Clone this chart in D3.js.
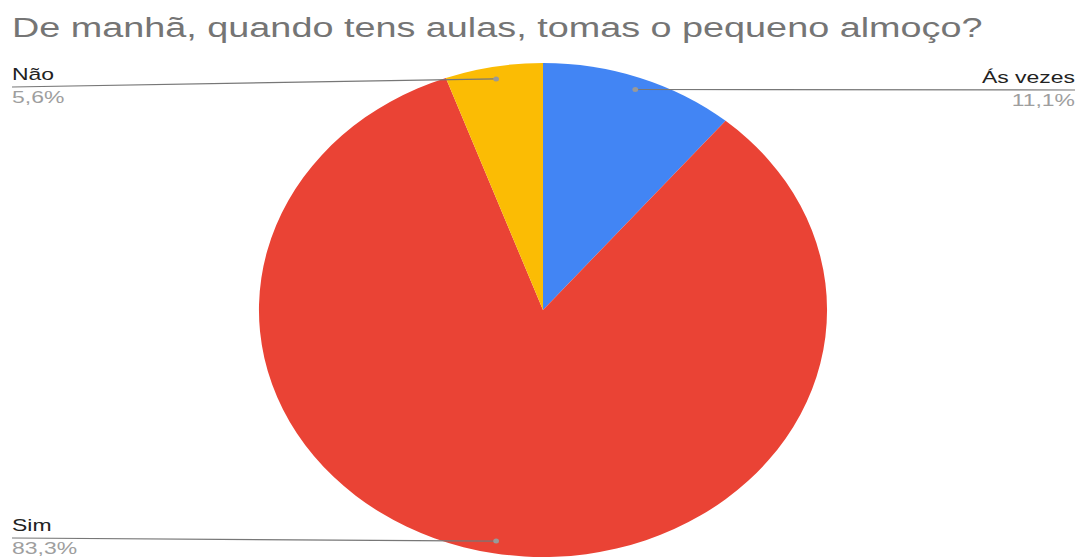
<!DOCTYPE html>
<html>
<head>
<meta charset="UTF-8">
<script src="https://cdn.jsdelivr.net/npm/d3@7"></script>
<style>
  html, body { margin: 0; padding: 0; background: #fff; }
  text { font-family: "Liberation Sans", Arial, sans-serif; }
</style>
</head>
<body>
<div id="chart"></div>
<script>
// data
var categories = ["Ás vezes", "Sim", "Não"];
var values = [2, 15, 1];
var pctLabels = ["11,1%", "83,3%", "5,6%"];
var colors = ["#4285f4", "#ea4335", "#fbbc04"];
var title = "De manhã, quando tens aulas, tomas o pequeno almoço?";

var W = 1079, H = 557;
var sx = 1.15;    // pie is stretched horizontally in the picture
var tsx = 1.35;   // text is stretched a bit more
var cx = 543 / sx, cy = 310, R = 247;

var svg = d3.select("#chart").append("svg")
  .attr("width", W).attr("height", H);

// stretched text helper, x/y in screen coords
function addText(x, y, str, size, fill, anchor) {
  svg.append("g")
    .attr("transform", "translate(" + x + "," + y + ") scale(" + tsx + ",1)")
    .append("text")
    .attr("text-anchor", anchor || "start")
    .attr("font-size", size)
    .attr("fill", fill)
    .text(str);
}

addText(12, 37, title, 28, "#757575");

var g = svg.append("g").attr("transform", "scale(" + sx + ",1)");

var pie = d3.pie().sort(null).value(function(d) { return d; });
var arcs = pie(values);
var arc = d3.arc().innerRadius(0).outerRadius(R);

var pg = g.append("g").attr("transform", "translate(" + cx + "," + cy + ")");
pg.selectAll("path").data(arcs).enter().append("path")
  .attr("d", arc)
  .attr("fill", function(d, i) { return colors[i]; });

// label anchor points at 0.95R of the mid angle
function anchor(d) {
  var a = (d.startAngle + d.endAngle) / 2;
  return [cx + 0.95 * R * Math.sin(a), cy - 0.95 * R * Math.cos(a)];
}

// label placement: side, y of line at label end, baselines
var labelPos = [
  {side: "right", lineY: 90, nameY: 83, pctY: 106},
  {side: "left", lineY: 538, nameY: 531, pctY: 554},
  {side: "left", lineY: 87, nameY: 80, pctY: 103}
];

var leftX = 12, rightX = 1075;

arcs.forEach(function(d, i) {
  var p = anchor(d), lp = labelPos[i];
  var lx = lp.side === "left" ? leftX : rightX;
  var anchorTxt = lp.side === "left" ? "start" : "end";
  g.append("line")
    .attr("x1", lx / sx).attr("y1", lp.lineY)
    .attr("x2", p[0]).attr("y2", p[1])
    .attr("stroke", "#777").attr("stroke-width", 1.2);
  g.append("circle")
    .attr("cx", p[0]).attr("cy", p[1]).attr("r", 2.5)
    .attr("fill", "#999");
  addText(lx, lp.nameY, categories[i], 17, "#222", anchorTxt);
  addText(lx, lp.pctY, pctLabels[i], 17, "#9e9e9e", anchorTxt);
});
</script>
</body>
</html>
